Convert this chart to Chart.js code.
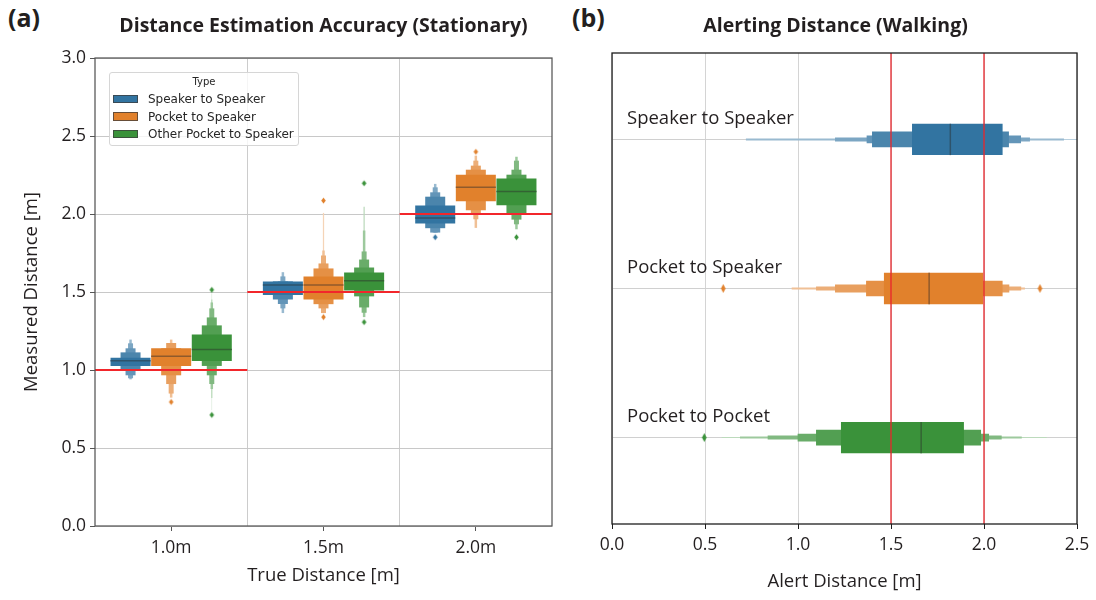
<!DOCTYPE html>
<html>
<head>
<meta charset="utf-8">
<script src="https://cdn.jsdelivr.net/npm/chart.js@4.4.1/dist/chart.umd.min.js"></script>
<style>
html,body{margin:0;padding:0;background:#fff;}
body{width:1096px;height:600px;position:relative;overflow:hidden;font-family:'Open Sans',sans-serif;}
.wrap{position:absolute;top:0;height:600px;}
.plabel{position:absolute;top:5px;font-family:'Open Sans',sans-serif;font-weight:700;font-size:25px;line-height:25px;color:#231f20;}
#legend{position:absolute;left:109px;top:72px;width:190px;height:74px;box-sizing:border-box;background:rgba(255,255,255,0.8);border:1px solid #d6d6d6;border-radius:3px;font-family:'DejaVu Sans',sans-serif;color:#262626;}
#legend .lt{position:absolute;left:0;right:0;top:2px;text-align:center;font-size:10px;line-height:14px;}
#legend .li{position:absolute;left:0;right:0;height:18px;}
#legend .sw{position:absolute;left:3px;top:4.5px;width:25px;height:8.5px;box-sizing:border-box;border:0.8px solid rgba(60,60,60,0.75);}
#legend .tx{position:absolute;left:38px;top:0;font-size:12px;line-height:18px;white-space:nowrap;}
</style>
</head>
<body>
<div class="plabel" style="left:8px">(a)</div>
<div class="plabel" style="left:572px">(b)</div>
<div class="wrap" style="left:0;width:570px"><canvas id="c1"></canvas></div>
<div class="wrap" style="left:594px;width:502px"><canvas id="c2"></canvas></div>
<div id="legend"></div>
<script>
// ---------------- DATA ----------------
// Panel (a): Distance Estimation Accuracy (Stationary)
const categories = ['1.0m', '1.5m', '2.0m'];
const seriesNames = ['Speaker to Speaker', 'Pocket to Speaker', 'Other Pocket to Speaker'];
const trueDistances = [1.0, 1.5, 2.0];
const measuredTicks = [0, 0.5, 1.0, 1.5, 2.0, 2.5, 3.0];

// medians per category
const s2sMedians = [1.054, 1.540, 1.969];
const p2sMedians = [1.083, 1.540, 2.167];
const op2sMedians = [1.126, 1.568, 2.139];

// letter-value boxes per category, innermost first: [low, high]
const s2sLevels = [
  [[1.026, 1.079], [0.998, 1.113], [0.966, 1.139], [0.947, 1.171], [0.940, 1.195]],
  [[1.480, 1.568], [1.452, 1.568], [1.423, 1.568], [1.395, 1.600], [1.365, 1.627]],
  [[1.939, 2.054], [1.909, 2.111], [1.881, 2.139], [1.881, 2.171], [1.881, 2.193]]
];
const p2sLevels = [
  [[1.026, 1.139], [0.966, 1.139], [0.910, 1.173], [0.849, 1.173], [0.823, 1.195]],
  [[1.452, 1.600], [1.422, 1.651], [1.395, 1.683], [1.365, 1.734], [1.365, 1.766], [1.365, 2.007]],
  [[2.081, 2.252], [2.024, 2.284], [1.996, 2.310], [1.966, 2.342], [1.911, 2.374]]
];
const op2sLevels = [
  [[1.058, 1.228], [1.026, 1.286], [0.966, 1.337], [0.910, 1.395], [0.878, 1.433], [0.821, 1.452], [0.742, 1.489]],
  [[1.510, 1.625], [1.472, 1.657], [1.401, 1.708], [1.367, 1.760], [1.339, 1.894], [1.339, 2.047]],
  [[2.056, 2.227], [1.996, 2.252], [1.964, 2.284], [1.934, 2.342], [1.902, 2.367]]
];
const s2sOutliers = [[], [], [1.851]];
const p2sOutliers = [[0.795], [2.086, 1.339], [2.399]];
const op2sOutliers = [[1.514, 0.712], [2.197, 1.307], [1.851]];

// Panel (b): Alerting Distance (Walking)
const walkRows = ['Speaker to Speaker', 'Pocket to Speaker', 'Pocket to Pocket'];
const walkMedians = [1.815, 1.701, 1.658];
const walkLevels = [
  [[1.613, 2.100], [1.398, 2.134], [1.369, 2.199], [1.199, 2.247], [0.720, 2.430], [0.720, 2.500]],
  [[1.462, 1.996], [1.366, 2.100], [1.199, 2.136], [1.097, 2.200], [0.966, 2.220]],
  [[1.231, 1.892], [1.097, 1.984], [0.998, 2.027], [0.837, 2.095], [0.688, 2.203], [0.590, 2.337]]
];
const walkOutliers = [[], [0.598, 2.301], [0.496]];
const alertThresholds = [1.5, 2.0];
const alertTicks = [0, 0.5, 1.0, 1.5, 2.0, 2.5];

// ---------------- STYLE ----------------
const FONT = "'Open Sans', sans-serif";
const TXT = '#231f20';
const BASE = ['#3274A1', '#E1812C', '#3A923A'];
const LEVEL_LIGHT = [0, 0.12, 0.24, 0.36, 0.5, 0.66, 0.8];
const DODGE = 0.8 / 3;          // seaborn-style hue dodge within a category
const BOX_FILL = 0.985;         // share of the dodge slot used by the widest box

function rgbOf(h) { h = h.replace('#', ''); return [0, 2, 4].map(i => parseInt(h.substr(i, 2), 16)); }
function mix(h, target, t) {
  const a = rgbOf(h), b = rgbOf(target);
  return 'rgb(' + a.map((v, i) => Math.round(v + (b[i] - v) * t)).join(',') + ')';
}
const darkOf = c => mix(c, '#2a2a2a', 0.45);
function diamond(color, w, h) {
  const c = document.createElement('canvas');
  c.width = Math.ceil(w) + 2; c.height = Math.ceil(h) + 2;
  const g = c.getContext('2d');
  const cx = c.width / 2, cy = c.height / 2;
  g.fillStyle = color;
  g.beginPath(); g.moveTo(cx, cy - h / 2); g.lineTo(cx + w / 2, cy); g.lineTo(cx, cy + h / 2); g.lineTo(cx - w / 2, cy); g.closePath(); g.fill();
  return c;
}

const framePlugin = {
  id: 'frame',
  afterDraw(chart, args, opts) {
    const { ctx, chartArea: a } = chart;
    ctx.save();
    ctx.strokeStyle = opts.color; ctx.lineWidth = opts.width;
    ctx.strokeRect(a.left, a.top, a.right - a.left, a.bottom - a.top);
    ctx.restore();
  }
};

Chart.defaults.font.family = FONT;
Chart.defaults.color = TXT;

// ---------------- PANEL (a) ----------------
const leftSeries = [
  { medians: s2sMedians, levels: s2sLevels, outliers: s2sOutliers },
  { medians: p2sMedians, levels: p2sLevels, outliers: p2sOutliers },
  { medians: op2sMedians, levels: op2sLevels, outliers: op2sOutliers }
];
const dodgeX = (ci, si) => ci + (si - 1) * DODGE;
const leftDatasets = [];
trueDistances.forEach((d, i) => {
  leftDatasets.push({
    type: 'line', xAxisID: 'xg', yAxisID: 'y',
    data: [{ x: i - 0.5, y: d }, { x: i + 0.5, y: d }],
    borderColor: '#f2262b', borderWidth: 2, pointRadius: 0, fill: false
  });
});
leftSeries.forEach((s, si) => {
  const pts = [];
  s.outliers.forEach((arr, ci) => arr.forEach(v => pts.push({ x: dodgeX(ci, si), y: v })));
  leftDatasets.push({
    type: 'scatter', xAxisID: 'xg', yAxisID: 'y', data: pts,
    pointStyle: diamond(BASE[si], 4.6, 6.2), pointRadius: 3
  });
});
leftSeries.forEach((s, si) => {
  leftDatasets.push({
    type: 'bar', xAxisID: 'xg', yAxisID: 'y', grouped: false,
    data: s.medians.map((m, ci) => ({ x: dodgeX(ci, si), y: [m, m] })),
    backgroundColor: darkOf(BASE[si]), minBarLength: 1.5,
    barPercentage: 1, categoryPercentage: BOX_FILL
  });
});
const maxLeftLevels = Math.max(...leftSeries.map(s => Math.max(...s.levels.map(b => b.length))));
for (let k = 0; k < maxLeftLevels; k++) {
  leftSeries.forEach((s, si) => {
    const data = [];
    s.levels.forEach((box, ci) => { if (box[k]) data.push({ x: dodgeX(ci, si), y: box[k] }); });
    leftDatasets.push({
      type: 'bar', xAxisID: 'xg', yAxisID: 'y', grouped: false,
      data: data,
      backgroundColor: mix(BASE[si], '#ffffff', LEVEL_LIGHT[k]),
      barPercentage: Math.pow(0.5, k), categoryPercentage: BOX_FILL
    });
  });
}

new Chart(document.getElementById('c1'), {
  type: 'bar',
  data: { labels: categories, datasets: leftDatasets },
  options: {
    responsive: true, maintainAspectRatio: false, animation: false,
    layout: { padding: { left: 0, right: 18, top: 0, bottom: 0 } },
    plugins: {
      legend: { display: false }, tooltip: { enabled: false },
      title: {
        display: true, text: 'Distance Estimation Accuracy (Stationary)', fullSize: false,
        font: { family: FONT, size: 19.5, weight: 'bold' }, color: TXT,
        padding: { top: 14.8, bottom: 19.8 }
      },
      frame: { color: '#555555', width: 1.25 }
    },
    scales: {
      x: {
        type: 'category', position: 'bottom', offset: true,
        grid: { offset: false, drawOnChartArea: false, drawTicks: true, tickLength: 5, tickColor: '#555555', color: '#555555' },
        border: { display: false },
        ticks: { font: { family: FONT, size: 17.5 }, color: TXT, padding: 6.5 },
        title: { display: true, text: 'True Distance [m]', font: { family: FONT, size: 18.5 }, color: TXT, padding: { top: 0, bottom: 12.9 } },
        afterFit(s) { s.height = 74; }
      },
      xg: {
        type: 'linear', position: 'bottom', min: -0.5, max: 2.5, offset: false, stacked: false,
        afterBuildTicks(s) { s.ticks = [{ value: 0.5 }, { value: 1.5 }]; },
        ticks: { display: false },
        grid: { color: '#cccccc', drawTicks: false, lineWidth: 1, offset: false },
        border: { display: false },
        afterFit(s) { s.height = 0; }
      },
      y: {
        type: 'linear', min: 0, max: 3, stacked: false,
        afterBuildTicks(s) { s.ticks = measuredTicks.map(v => ({ value: v })); },
        ticks: { callback: v => Number(v).toFixed(1), font: { family: FONT, size: 17.5 }, color: TXT, padding: 4 },
        grid: { color: '#c8c8c8', tickLength: 5, tickColor: '#555555' },
        border: { display: false },
        title: { display: true, text: 'Measured Distance [m]', font: { family: FONT, size: 18.5 }, color: TXT, padding: { top: 21, bottom: 0 } },
        afterFit(s) { s.width = 95; }
      }
    }
  },
  plugins: [framePlugin]
});

// legend (HTML overlay) built from series names
(function () {
  const lg = document.getElementById('legend');
  let html = '<div class="lt">Type</div>';
  seriesNames.forEach((n, i) => {
    html += '<div class="li" style="top:' + (17.2 + i * 17.6) + 'px"><span class="sw" style="background:' + BASE[i] + '"></span><span class="tx">' + n + '</span></div>';
  });
  lg.innerHTML = html;
})();

// ---------------- PANEL (b) ----------------
const Y_MIN = -0.58, Y_MAX = 2.58;
const rightDatasets = [];
alertThresholds.forEach(t => {
  rightDatasets.push({
    type: 'line', xAxisID: 'x', yAxisID: 'y',
    data: [{ x: t, y: Y_MIN }, { x: t, y: Y_MAX }],
    borderColor: '#e8262b', borderWidth: 1.3, pointRadius: 0, fill: false
  });
});
walkOutliers.forEach((arr, ri) => {
  rightDatasets.push({
    type: 'scatter', xAxisID: 'x', yAxisID: 'y',
    data: arr.map(v => ({ x: v, y: ri })),
    pointStyle: diamond(BASE[ri], 4.6, 9), pointRadius: 4
  });
});
rightDatasets.push({
  type: 'bar', indexAxis: 'y', xAxisID: 'x', yAxisID: 'y', grouped: false,
  data: walkMedians.map((m, i) => ({ y: i, x: [m, m] })),
  backgroundColor: walkMedians.map((m, i) => darkOf(BASE[i])), minBarLength: 1.5,
  barPercentage: 1, categoryPercentage: 0.21
});
const maxRightLevels = Math.max(...walkLevels.map(b => b.length));
for (let k = 0; k < maxRightLevels; k++) {
  const data = [], colors = [];
  walkLevels.forEach((box, i) => {
    if (box[k]) { data.push({ y: i, x: box[k] }); colors.push(mix(BASE[i], '#ffffff', LEVEL_LIGHT[k])); }
  });
  rightDatasets.push({
    type: 'bar', indexAxis: 'y', xAxisID: 'x', yAxisID: 'y', grouped: false,
    data: data, backgroundColor: colors,
    barPercentage: Math.pow(0.5, k), categoryPercentage: 0.21
  });
}

new Chart(document.getElementById('c2'), {
  type: 'bar',
  data: { datasets: rightDatasets },
  options: {
    responsive: true, maintainAspectRatio: false, animation: false,
    layout: { padding: { left: 0, right: 19, top: 0, bottom: 0 } },
    plugins: {
      legend: { display: false }, tooltip: { enabled: false },
      title: {
        display: true, text: 'Alerting Distance (Walking)', fullSize: true,
        font: { family: FONT, size: 19.5, weight: 'bold' }, color: TXT,
        padding: { top: 14.8, bottom: 14.8 }
      },
      frame: { color: '#1e1e1e', width: 1.3 }
    },
    scales: {
      x: {
        type: 'linear', min: 0, max: 2.5, stacked: false, offset: false,
        afterBuildTicks(s) { s.ticks = alertTicks.map(v => ({ value: v })); },
        ticks: { callback: v => Number(v).toFixed(1), font: { family: FONT, size: 17.5 }, color: TXT, padding: 5.5 },
        grid: { color: '#d4d4d4', tickLength: 5, tickColor: '#1e1e1e', offset: false },
        border: { display: false },
        title: { display: true, text: 'Alert Distance [m]', font: { family: FONT, size: 18.5 }, color: TXT, padding: { top: 0, bottom: 6.9 } },
        afterFit(s) { s.height = 76; }
      },
      y: {
        type: 'linear', reverse: true, min: Y_MIN, max: Y_MAX, offset: false, stacked: false,
        afterBuildTicks(s) { s.ticks = walkRows.map((r, i) => ({ value: i })); },
        ticks: { mirror: true, padding: 15, labelOffset: -21, callback: v => walkRows[v], font: { family: FONT, size: 18.5 }, color: TXT, autoSkip: false },
        grid: { color: '#d0d0d0', drawTicks: false, offset: false },
        border: { display: false },
        afterFit(s) { s.width = 18; }
      }
    }
  },
  plugins: [framePlugin]
});
</script>
</body>
</html>
